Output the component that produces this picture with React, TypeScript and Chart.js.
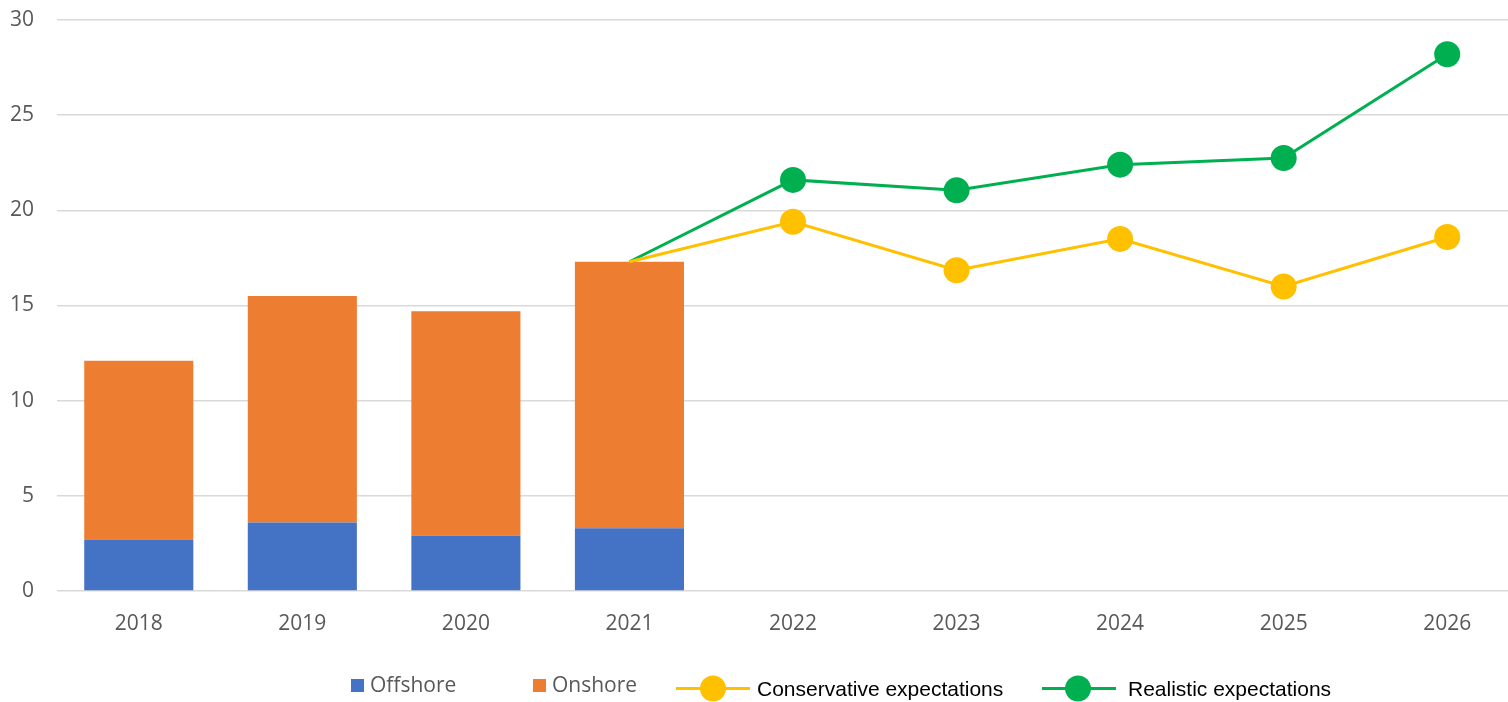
import React, { useEffect, useRef } from "react";
import { Chart, registerables } from "chart.js";

Chart.register(...registerables);

const years = ["2018", "2019", "2020", "2021", "2022", "2023", "2024", "2025", "2026"];
const offshore = [2.7, 3.6, 2.9, 3.3, null, null, null, null, null];
const onshore = [9.4, 11.9, 11.8, 14.0, null, null, null, null, null];
const conservative = [null, null, null, 17.3, 19.4, 16.85, 18.5, 16.0, 18.6];
const realistic = [null, null, null, 17.3, 21.6, 21.05, 22.4, 22.75, 28.2];
const markerRadii = [0, 0, 0, 0, 13, 13, 13, 13, 13];
const yTicks = [0, 5, 10, 15, 20, 25, 30];

const BLUE = "#4472C4";
const ORANGE = "#ED7D31";
const YELLOW = "#FFC000";
const GREEN = "#00B050";
const GRAY = "#595959";

const legendPlugin = {
  id: "customLegend",
  afterDraw(chart: any) {
    const ctx = chart.ctx;
    ctx.save();
    ctx.textBaseline = "middle";
    ctx.textAlign = "left";
    ctx.font = "21px 'Open Sans'";
    // Offshore
    ctx.fillStyle = BLUE;
    ctx.fillRect(351, 679, 13, 13);
    ctx.fillStyle = GRAY;
    ctx.fillText("Offshore", 370, 686);
    // Onshore
    ctx.fillStyle = ORANGE;
    ctx.fillRect(533, 679, 13, 13);
    ctx.fillStyle = GRAY;
    ctx.fillText("Onshore", 552, 686);
    const drawLineItem = (x1: number, x2: number, cx: number, color: string, text: string, tx: number) => {
      ctx.strokeStyle = color;
      ctx.lineWidth = 3;
      ctx.beginPath();
      ctx.moveTo(x1, 688.5);
      ctx.lineTo(x2, 688.5);
      ctx.stroke();
      ctx.fillStyle = color;
      ctx.beginPath();
      ctx.arc(cx, 688.5, 13, 0, Math.PI * 2);
      ctx.fill();
      ctx.fillStyle = "#000000";
      ctx.font = "21px 'Liberation Sans'";
      ctx.fillText(text, tx, 690);
    };
    drawLineItem(676, 750, 713, YELLOW, "Conservative expectations", 757);
    drawLineItem(1042, 1116, 1078, GREEN, "Realistic expectations", 1128);
    ctx.restore();
  },
};

export default function App() {
  const canvasRef = useRef<HTMLCanvasElement | null>(null);

  useEffect(() => {
    if (!canvasRef.current) return;
    const chart = new Chart(canvasRef.current, {
      type: "bar",
      data: {
        labels: years,
        datasets: [
          {
            type: "line",
            label: "Conservative expectations",
            data: conservative,
            borderColor: YELLOW,
            backgroundColor: YELLOW,
            borderWidth: 3,
            pointRadius: markerRadii,
            pointBackgroundColor: YELLOW,
            pointBorderWidth: 0,
            stack: "cons",
            order: 0,
          } as any,
          {
            type: "line",
            label: "Realistic expectations",
            data: realistic,
            borderColor: GREEN,
            backgroundColor: GREEN,
            borderWidth: 3,
            pointRadius: markerRadii,
            pointBackgroundColor: GREEN,
            pointBorderWidth: 0,
            stack: "real",
            order: 1,
          } as any,
          {
            label: "Offshore",
            data: offshore,
            backgroundColor: BLUE,
            stack: "bars",
            order: 2,
            barPercentage: 0.667,
            categoryPercentage: 1,
          } as any,
          {
            label: "Onshore",
            data: onshore,
            backgroundColor: ORANGE,
            stack: "bars",
            order: 2,
            barPercentage: 0.667,
            categoryPercentage: 1,
          } as any,
        ],
      },
      options: {
        responsive: false,
        animation: false,
        devicePixelRatio: 1,
        layout: { padding: { top: 20, right: 0, left: 0, bottom: 0 } },
        plugins: {
          legend: { display: false },
          tooltip: { enabled: false },
        },
        scales: {
          x: {
            stacked: true,
            grid: { display: false, drawTicks: false },
            border: { display: false },
            ticks: {
              color: GRAY,
              font: { family: "'Open Sans'", size: 21 },
              padding: 20,
            },
            afterFit(scale: any) {
              scale.height = 111;
            },
          },
          y: {
            stacked: true,
            min: 0,
            max: 30,
            afterBuildTicks(scale: any) {
              scale.ticks = yTicks.map((v) => ({ value: v }));
            },
            grid: { color: "#D9D9D9", lineWidth: 1.5, drawTicks: false },
            border: { display: false },
            ticks: {
              color: GRAY,
              font: { family: "'Open Sans'", size: 21 },
              padding: 23,
            },
            afterFit(scale: any) {
              scale.width = 57;
              scale.paddingTop = 0;
              scale.paddingBottom = 0;
            },
          },
        },
      },
      plugins: [legendPlugin],
    });
    return () => chart.destroy();
  }, []);

  return (
    <div style={{ position: "fixed", left: 0, top: 0, width: 1508, height: 702, overflow: "hidden", background: "#fff" }}>
      <div style={{ width: 1542, height: 702 }}>
        <canvas ref={canvasRef} width={1542} height={702} style={{ display: "block" }} />
      </div>
    </div>
  );
}
